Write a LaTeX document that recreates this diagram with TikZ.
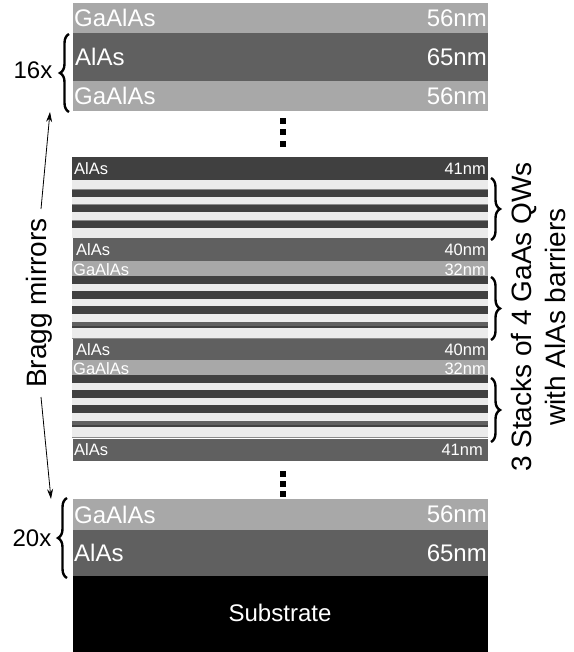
\documentclass[tikz,border=0pt]{standalone}
\usepackage{fontspec}
\setmainfont{Liberation Sans}
\usetikzlibrary{decorations.pathreplacing,arrows.meta}
\definecolor{gaalas}{HTML}{A8A8A8}
\definecolor{alasA}{HTML}{606060}
\definecolor{alasB}{HTML}{404040}
\definecolor{qwlight}{HTML}{EBEBEB}
\definecolor{qwline}{HTML}{8A8A8A}
\begin{document}
\begin{tikzpicture}[x=1pt,y=-1pt,
  band/.style={fill=#1,draw=none},
  big/.style={text=white,inner sep=1pt,font=\fontsize{24}{28}\selectfont},
  small/.style={text=white,inner sep=1pt,font=\fontsize{16.5}{19}\selectfont},
  side/.style={text=black,inner sep=0pt,font=\fontsize{24}{28}\selectfont},
  bracedeco/.style={decorate,decoration={brace,amplitude=9pt},line width=2.4pt},
  dotsq/.style={fill=black,minimum size=6pt,inner sep=0pt,draw=none},
  arr/.style={-{Stealth[length=10pt,width=6pt]},line width=0.8pt}]
\useasboundingbox (0,0) rectangle (573,652);
% ---------- top Bragg mirror
\fill[band=gaalas] (73,3) rectangle (488,33);
\fill[band=alasA] (73,33) rectangle (488,81);
\fill[band=gaalas] (73,81) rectangle (488,111);
\node[big,anchor=west] (t1l) at (73,18) {GaAlAs};
\node[big,anchor=east] (t1r) at (488,18) {56nm};
\node[big,anchor=west] (t2l) at (74,57) {AlAs};
\node[big,anchor=east] (t2r) at (488,57) {65nm};
\node[big,anchor=west] (t3l) at (73,96) {GaAlAs};
\node[big,anchor=east] (t3r) at (488,96) {56nm};
% dots
\node[dotsq] (d1) at (283,121) {};
\node[dotsq] (d2) at (283,132) {};
\node[dotsq] (d3) at (283,144) {};
% ---------- middle cavity
\fill[band=alasB] (72,157) rectangle (488,180);
\node[small,anchor=west] (m1l) at (73,168.5) {AlAs};
\node[small,anchor=east] (m1r) at (487,168.5) {41nm};
% stack 1
\fill[band=qwlight] (72,180) rectangle (488,238);
\foreach \y in {189,204,220}{
  \fill[band=alasB] (72,\y) rectangle (488,\y+8);
  \fill[band=qwline] (72,\y) rectangle (488,\y+1);
}
\fill[band=alasA] (73,238) rectangle (488,261);
\node[small,anchor=west] (m2l) at (75,249.5) {AlAs};
\node[small,anchor=east] (m2r) at (487,249.5) {40nm};
\fill[band=gaalas] (72,261) rectangle (488,276);
\node[small,anchor=west] (m3l) at (72,269.5) {GaAlAs};
\node[small,anchor=east] (m3r) at (487,269.5) {32nm};
% stack 2 and 3
\foreach \o in {0,99}{
  \fill[band=qwlight] (72,276+\o) rectangle (488,339+\o);
  \foreach \y in {276,291,306}{
    \fill[band=alasB] (72,\y+\o) rectangle (488,\y+\o+7.5);
  }
  \fill[band=alasA] (72,322+\o) rectangle (488,326+\o);
  \fill[band=alasB] (72,326+\o) rectangle (488,327.5+\o);
  \fill[band=qwline] (72,338+\o) rectangle (488,339+\o);
}
\fill[band=alasA] (73,339) rectangle (488,360);
\node[small,anchor=west] (m4l) at (75,349.5) {AlAs};
\node[small,anchor=east] (m4r) at (487,349.5) {40nm};
\fill[band=gaalas] (72,360) rectangle (488,375);
\node[small,anchor=west] (m5l) at (72,368.5) {GaAlAs};
\node[small,anchor=east] (m5r) at (487,368.5) {32nm};
\fill[band=alasA] (73,439) rectangle (488,461);
\node[small,anchor=west] (m6l) at (73,450) {AlAs};
\node[small,anchor=east] (m6r) at (484,450) {41nm};
% dots
\node[dotsq] (d4) at (283,474) {};
\node[dotsq] (d5) at (283,484) {};
\node[dotsq] (d6) at (283,494) {};
% ---------- bottom Bragg mirror
\fill[band=gaalas] (73,499) rectangle (488,530);
\fill[band=alasA] (73,530) rectangle (488,576);
\fill[fill=black] (73,576) rectangle (488,652);
\node[big,anchor=west] (b1l) at (73,514.5) {GaAlAs};
\node[big,anchor=east] (b1r) at (488,514.5) {56nm};
\node[big,anchor=west] (b2l) at (73,553) {AlAs};
\node[big,anchor=east] (b2r) at (488,553) {65nm};
\node[big] (sub) at (280,613) {Substrate};
% ---------- left annotations
\node[side] (n16) at (33,70) {16x};
\node[side] (n20) at (32,538) {20x};
\draw[bracedeco] (69,112) -- (69,34);
\draw[bracedeco] (67,578) -- (67,498);
\node[side,rotate=90,font=\fontsize{28}{32}\selectfont] (bragg) at (39,303) {Bragg mirrors};
\coordinate (a1s) at (41,209);
\coordinate (a1e) at (50,112);
\coordinate (a2s) at (41,397);
\coordinate (a2e) at (51,499);
\draw[arr] (a1s) -- (a1e);
\draw[arr] (a2s) -- (a2e);
% ---------- right annotations
\draw[bracedeco] (491,178) -- (491,240);
\draw[bracedeco] (491,277) -- (491,340);
\draw[bracedeco] (491,378) -- (491,442);
\node[side,rotate=90,align=center,font=\fontsize{28}{34}\selectfont] (qw) at (538,317) {3 Stacks of 4 GaAs QWs\\with AlAs barriers};
\end{tikzpicture}
\end{document}
